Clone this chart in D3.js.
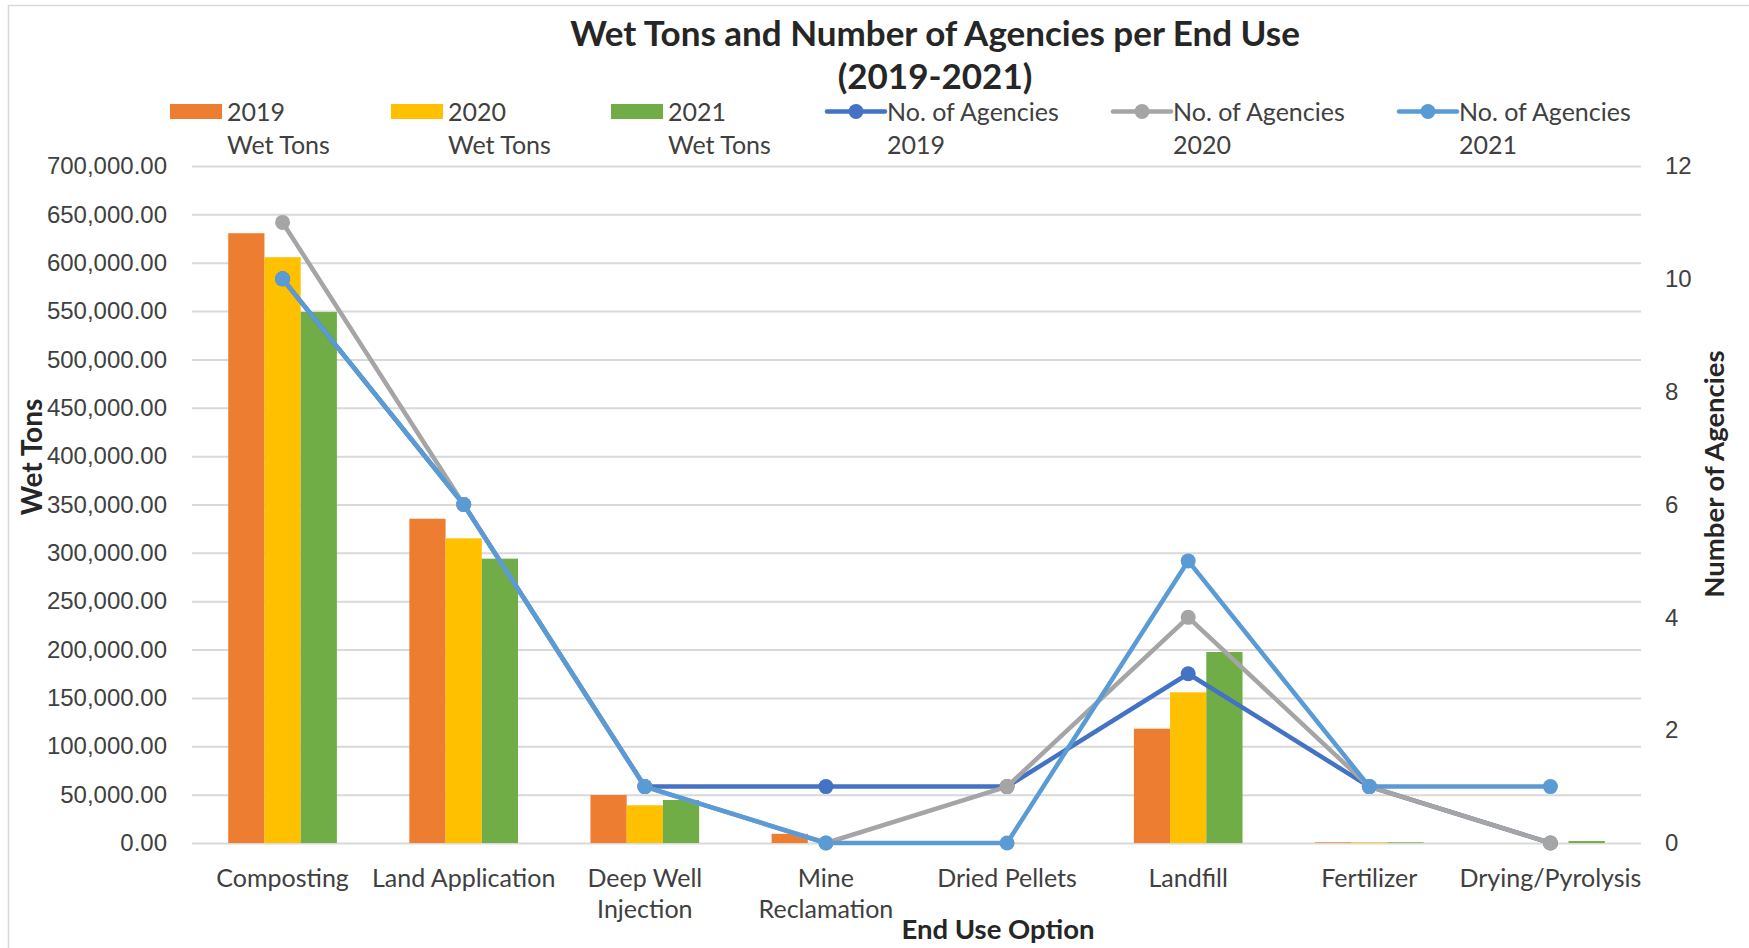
<!DOCTYPE html>
<html>
<head>
<meta charset="utf-8">
<script src="https://cdn.jsdelivr.net/npm/d3@7"></script>
<style>
  body { margin: 0; background: #fff; }
  svg { display: block; font-family: Lato, "Open Sans", sans-serif; }
</style>
</head>
<body>
<svg id="chart" width="1749" height="948"></svg>
<script>
// categories on the x axis
const categories = ['Composting', 'Land Application', 'Deep Well Injection', 'Mine Reclamation',
  'Dried Pellets', 'Landfill', 'Fertilizer', 'Drying/Pyrolysis'];
// labels split over two lines as in the picture
const categoryLines = [['Composting'], ['Land Application'], ['Deep Well', 'Injection'], ['Mine', 'Reclamation'],
  ['Dried Pellets'], ['Landfill'], ['Fertilizer'], ['Drying/Pyrolysis']];

// wet tons (bars, left axis)
const tons2019 = [630500, 335300, 49600, 9500, 200, 118200, 700, 0];
const tons2020 = [605700, 315000, 39000, 0, 200, 155800, 700, 0];
const tons2021 = [549000, 294000, 44500, 0, 0, 197500, 700, 2000];

// number of agencies (lines, right axis)
const agencies2019 = [10, 6, 1, 1, 1, 3, 1, 0];
const agencies2020 = [11, 6, 1, 0, 1, 4, 1, 0];
const agencies2021 = [10, 6, 1, 0, 0, 5, 1, 1];

const leftTicks = d3.range(0, 700001, 50000);
const rightTicks = [0, 2, 4, 6, 8, 10, 12];

const barSeries = [
  { name: ['2019', 'Wet Tons'], values: tons2019, color: '#ED7D31' },
  { name: ['2020', 'Wet Tons'], values: tons2020, color: '#FFC000' },
  { name: ['2021', 'Wet Tons'], values: tons2021, color: '#70AD47' }
];
const lineSeries = [
  { name: ['No. of Agencies', '2019'], values: agencies2019, color: '#4472C4' },
  { name: ['No. of Agencies', '2020'], values: agencies2020, color: '#A5A5A5' },
  { name: ['No. of Agencies', '2021'], values: agencies2021, color: '#5B9BD5' }
];

const svg = d3.select('#chart');
const plot = { left: 192, right: 1641, top: 166, bottom: 843 };
const textColor = '#404040';
const titleColor = '#262626';

// chart frame
svg.append('rect')
  .attr('x', 8.5).attr('y', 5.5)
  .attr('width', 1760).attr('height', 960)
  .attr('fill', 'none')
  .attr('stroke', '#d9d9d9')
  .attr('stroke-width', 1.5);

const x = d3.scaleBand().domain(categories).range([plot.left, plot.right]);
const barW = x.bandwidth() / (3 + 2.0);
const x1 = d3.scaleBand().domain([0, 1, 2])
  .range([(x.bandwidth() - 3 * barW) / 2, (x.bandwidth() + 3 * barW) / 2]);
const yL = d3.scaleLinear().domain([0, 700000]).range([plot.bottom, plot.top]);
const yR = d3.scaleLinear().domain([0, 12]).range([plot.bottom, plot.top]);

// gridlines + left labels
const leftAxis = d3.axisLeft(yL).tickValues(leftTicks).tickFormat(d3.format(',.2f'))
  .tickSize(-(plot.right - plot.left)).tickPadding(25);
const gL = svg.append('g').attr('transform', `translate(${plot.left},0)`).call(leftAxis);
gL.select('.domain').remove();
gL.selectAll('.tick line').attr('stroke', '#d9d9d9').attr('stroke-width', 2);
gL.selectAll('.tick text').attr('fill', textColor).style('font-size', '24px');

const rightAxis = d3.axisRight(yR).tickValues(rightTicks).tickSize(0).tickPadding(24);
const gR = svg.append('g').attr('transform', `translate(${plot.right},0)`).call(rightAxis);
gR.select('.domain').remove();
gR.selectAll('.tick text').attr('fill', textColor).style('font-size', '24px');

// bars
barSeries.forEach((s, si) => {
  svg.append('g').selectAll('rect')
    .data(s.values)
    .join('rect')
    .attr('x', (d, i) => x(categories[i]) + x1(si))
    .attr('y', d => yL(d))
    .attr('width', x1.bandwidth())
    .attr('height', d => yL(0) - yL(d))
    .attr('fill', s.color);
});

// lines with markers
const line = d3.line()
  .x((d, i) => x(categories[i]) + x.bandwidth() / 2)
  .y(d => yR(d));
lineSeries.forEach((s) => {
  const g = svg.append('g');
  g.append('path')
    .attr('d', line(s.values))
    .attr('fill', 'none')
    .attr('stroke', s.color)
    .attr('stroke-width', 4.5)
    .attr('stroke-linejoin', 'round')
    .attr('stroke-linecap', 'round');
  g.selectAll('circle')
    .data(s.values)
    .join('circle')
    .attr('cx', (d, i) => x(categories[i]) + x.bandwidth() / 2)
    .attr('cy', d => yR(d))
    .attr('r', 7.5)
    .attr('fill', s.color);
});

// category labels
const catG = svg.append('g').attr('fill', textColor).style('font-size', '25px').attr('text-anchor', 'middle');
categoryLines.forEach((lines, i) => {
  const cx = x(categories[i]) + x.bandwidth() / 2;
  const t = catG.append('text').attr('x', cx).attr('y', 887);
  lines.forEach((l, j) => t.append('tspan')
    .attr('x', cx)
    .attr('dy', j === 0 ? 0 : 31)
    .text(l));
});

// titles
svg.append('text').attr('x', 935).attr('y', 46).attr('text-anchor', 'middle')
  .attr('fill', titleColor).style('font-size', '35px').style('font-weight', 'bold')
  .text('Wet Tons and Number of Agencies per End Use');
svg.append('text').attr('x', 935).attr('y', 88.5).attr('text-anchor', 'middle')
  .attr('fill', titleColor).style('font-size', '35px').style('font-weight', 'bold')
  .text('(2019-2021)');

svg.append('text').attr('x', 998).attr('y', 939).attr('text-anchor', 'middle')
  .attr('fill', titleColor).style('font-size', '27.5px').style('font-weight', 'bold')
  .text('End Use Option');
svg.append('text').attr('transform', 'translate(42,457) rotate(-90)').attr('text-anchor', 'middle')
  .attr('fill', titleColor).style('font-size', '28px').style('font-weight', 'bold')
  .text('Wet Tons');
svg.append('text').attr('transform', 'translate(1724,474) rotate(-90)').attr('text-anchor', 'middle')
  .attr('fill', titleColor).style('font-size', '27.5px').style('font-weight', 'bold')
  .text('Number of Agencies');

// legend
const legendX = [170, 391, 611, 827, 1113, 1399];
const legendItems = barSeries.map(s => ({ ...s, type: 'bar' }))
  .concat(lineSeries.map(s => ({ ...s, type: 'line' })));
const leg = svg.append('g');
legendItems.forEach((s, i) => {
  const g = leg.append('g').attr('transform', `translate(${legendX[i]},0)`);
  let tx;
  if (s.type === 'bar') {
    g.append('rect').attr('x', 0).attr('y', 104).attr('width', 52).attr('height', 15).attr('fill', s.color);
    tx = 57;
  } else {
    g.append('line').attr('x1', 0).attr('x2', 58).attr('y1', 111.5).attr('y2', 111.5)
      .attr('stroke', s.color).attr('stroke-width', 4.5).attr('stroke-linecap', 'round');
    g.append('circle').attr('cx', 29).attr('cy', 111.5).attr('r', 7.5).attr('fill', s.color);
    tx = 60;
  }
  const t = g.append('text').attr('fill', textColor).style('font-size', '25px');
  t.append('tspan').attr('x', tx).attr('y', 121).text(s.name[0]);
  t.append('tspan').attr('x', tx).attr('y', 153.5).text(s.name[1]);
});
</script>
</body>
</html>
